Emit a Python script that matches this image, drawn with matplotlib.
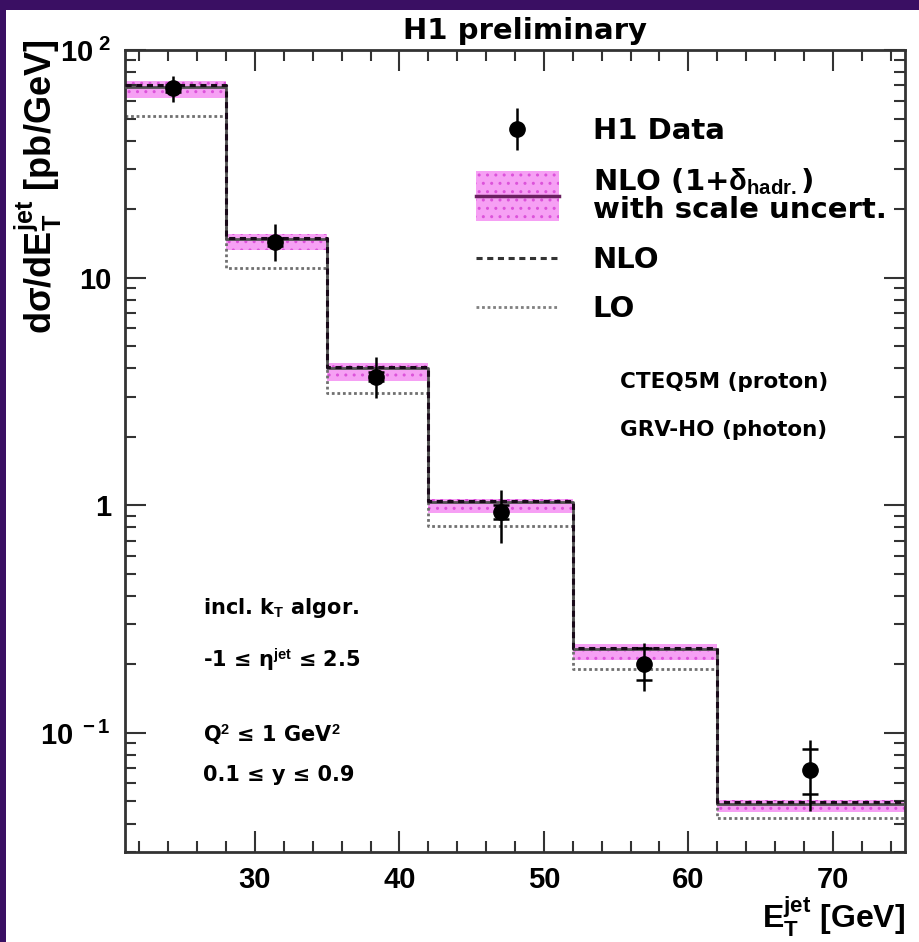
import matplotlib
matplotlib.use('Agg')
import matplotlib.pyplot as plt
import numpy as np
from matplotlib.patches import Rectangle
from matplotlib.lines import Line2D
from matplotlib.legend_handler import HandlerBase, HandlerErrorbar
from matplotlib.ticker import FixedLocator, MultipleLocator, LogLocator, NullFormatter, FixedFormatter

plt.rcParams['font.family'] = ['Liberation Sans', 'DejaVu Sans']
plt.rcParams['font.weight'] = 'bold'
plt.rcParams['axes.labelweight'] = 'bold'
plt.rcParams['axes.titleweight'] = 'bold'
plt.rcParams['mathtext.fontset'] = 'custom'
plt.rcParams['mathtext.rm'] = 'Liberation Sans:bold'
plt.rcParams['mathtext.it'] = 'Liberation Sans:bold'
plt.rcParams['mathtext.bf'] = 'Liberation Sans:bold'
plt.rcParams['mathtext.sf'] = 'Liberation Sans:bold'
plt.rcParams['hatch.linewidth'] = 1.0

WIDE = ['DejaVu Sans']

# ---------------- data ----------------
bin_edges = [21, 28, 35, 42, 52, 62, 75]
nlo_had = [69.0, 14.8, 3.99, 1.03, 0.234, 0.0489]        # NLO (1+delta_hadr)
band_up = [73.3, 15.6, 4.20, 1.07, 0.245, 0.0510]         # scale uncertainty upper
band_dn = [61.6, 13.2, 3.51, 0.923, 0.210, 0.0451]        # scale uncertainty lower
nlo = [70.0, 15.0, 4.05, 1.045, 0.237, 0.0495]            # NLO (parton level)
lo = [51.5, 11.0, 3.12, 0.815, 0.191, 0.0421]             # LO
data_x = [24.3, 31.4, 38.4, 47.0, 56.9, 68.4]
data_y = [68.1, 14.4, 3.67, 0.93, 0.201, 0.0690]
tot_up = [76.9, 17.2, 4.50, 1.17, 0.248, 0.0935]
tot_dn = [59.2, 11.8, 2.95, 0.68, 0.153, 0.0455]
stat_up = [70.5, 15.0, 3.85, 1.00, 0.235, 0.0853]
stat_dn = [65.7, 13.8, 3.50, 0.87, 0.171, 0.0537]

y_ticks = [0.1, 1, 10, 100]
y_ticklabels = [r'$10^{\ -1}$', '1', '10', r'$10^{\ 2}$']

band_color = '#f6a0f4'
band_hatch = '#dc52da'

fig = plt.figure(figsize=(9.19, 9.42), dpi=100)
fig.patch.set_facecolor('#3a0f63')
fig.patches.append(Rectangle((6/919, 0), 1, 1 - 10/942, transform=fig.transFigure,
                             facecolor='white', edgecolor='none', zorder=-10))
ax = fig.add_axes([125/919, 90/942, 780/919, 802/942])

def ext(v):
    return list(v) + [v[-1]]

ax.fill_between(bin_edges, ext(band_dn), ext(band_up), step='post',
                facecolor=band_color, edgecolor=band_hatch, linewidth=0, hatch='..', zorder=1)
ax.step(bin_edges, ext(lo), where='post', color='#707070', lw=2.0, ls=(0, (1, 1)), zorder=2)
ax.step(bin_edges, ext(nlo_had), where='post', color='#505050', lw=2.0, zorder=3)
ax.step(bin_edges, ext(nlo), where='post', color='#1a0a1a', lw=2.2, ls=(0, (2, 1.5)), zorder=4)

dy = np.array(data_y)
ax.errorbar(data_x, data_y, yerr=[dy - np.array(tot_dn), np.array(tot_up) - dy],
            fmt='none', ecolor='black', elinewidth=1.8, zorder=5)
ax.errorbar(data_x, data_y, yerr=[dy - np.array(stat_dn), np.array(stat_up) - dy],
            fmt='o', ms=11, color='black', elinewidth=0, capsize=5.5, capthick=1.8, zorder=6)

ax.set_yscale('log')
ax.set_xlim(21, 75)
ax.set_ylim(0.03, 100)
ax.xaxis.set_major_locator(MultipleLocator(10))
ax.xaxis.set_minor_locator(MultipleLocator(2))
ax.yaxis.set_major_locator(FixedLocator(y_ticks))
ax.yaxis.set_major_formatter(FixedFormatter(y_ticklabels))
ax.yaxis.set_minor_locator(LogLocator(base=10, subs=np.arange(2, 10)))
ax.yaxis.set_minor_formatter(NullFormatter())
ax.tick_params(which='both', direction='in', top=True, right=True, width=1.5, color='#333333',
               labelsize=21)
ax.tick_params(which='major', length=15)
ax.tick_params(which='minor', length=8)
ax.tick_params(axis='x', pad=10)
ax.tick_params(axis='y', pad=10)
for s in ax.spines.values():
    s.set_linewidth(2)
    s.set_color('#333333')

ax.set_title('H1 preliminary', fontsize=21, fontweight='bold', family=WIDE, x=0.513, pad=8)

ax.set_xlabel(r'E$_{\rm T}^{\rm jet}$ [GeV]', fontsize=23, fontweight='bold', loc='right')
ax.xaxis.label.set_va('baseline')
ax.xaxis.set_label_coords(1.0, -0.0948)
ax.set_ylabel(r'd$\sigma$/dE$_{\rm T}^{\rm jet}$ [pb/GeV]', fontsize=26, fontweight='bold', loc='top')
ax.yaxis.set_label_coords(-0.078, 1.0125)

# annotations
ax.text(0.635, 0.586, 'CTEQ5M (proton)', transform=ax.transAxes, fontsize=15.5, family=WIDE, va='center')
ax.text(0.635, 0.526, 'GRV-HO (photon)', transform=ax.transAxes, fontsize=15.5, family=WIDE, va='center')
ax.text(0.10, 0.304, r'incl. k$_{\rm T}$ algor.', transform=ax.transAxes, fontsize=15, family=WIDE, va='center')
ax.text(0.10, 0.239, '-1 \u2264 \u03b7$^{\\rm jet}$ \u2264 2.5', transform=ax.transAxes, fontsize=15, family=WIDE, va='center')
ax.text(0.10, 0.146, 'Q$^{2}$ \u2264 1 GeV$^{2}$', transform=ax.transAxes, fontsize=15, family=WIDE, va='center')
ax.text(0.10, 0.096, '0.1 \u2264 y \u2264 0.9', transform=ax.transAxes, fontsize=15, family=WIDE, va='center')

# legend
class BandHandler(HandlerBase):
    def create_artists(self, legend, orig_handle, xdescent, ydescent, width, height, fontsize, trans):
        h = 1.71 * fontsize
        cy = -ydescent + height / 2
        r = Rectangle((-xdescent, cy - h / 2), width, h, facecolor=band_color, edgecolor=band_hatch,
                      linewidth=0, hatch='..', transform=trans)
        l = Line2D([-xdescent, -xdescent + width], [cy, cy], color='#6a2060', lw=2.5, transform=trans)
        return [r, l]

data_proxy = ax.errorbar([], [], yerr=[], fmt='o', ms=11, color='black', elinewidth=1.8)
band_proxy = Rectangle((0, 0), 1, 1)
nlo_proxy = Line2D([], [], color='#333333', lw=2.2, ls=(0, (2, 1.5)))
lo_proxy = Line2D([], [], color='#808080', lw=2.0, ls=(0, (1, 1)))
leg = ax.legend([data_proxy, band_proxy, nlo_proxy, lo_proxy],
                ['H1 Data', 'NLO (1+$\\delta_{\\rm hadr.}$)\nwith scale uncert.', 'NLO', 'LO'],
                handler_map={band_proxy: BandHandler(), type(data_proxy): HandlerErrorbar(yerr_size=0.72)},
                loc='upper left', bbox_to_anchor=(0.45, 0.9165), frameon=False,
                prop={'family': WIDE, 'weight': 'bold', 'size': 21},
                handlelength=2.84, handletextpad=1.16, borderpad=0, borderaxespad=0, labelspacing=0.74)
for t in leg.get_texts():
    t.set_linespacing(0.95)

fig.savefig('out.png', dpi=100, facecolor=fig.get_facecolor())
